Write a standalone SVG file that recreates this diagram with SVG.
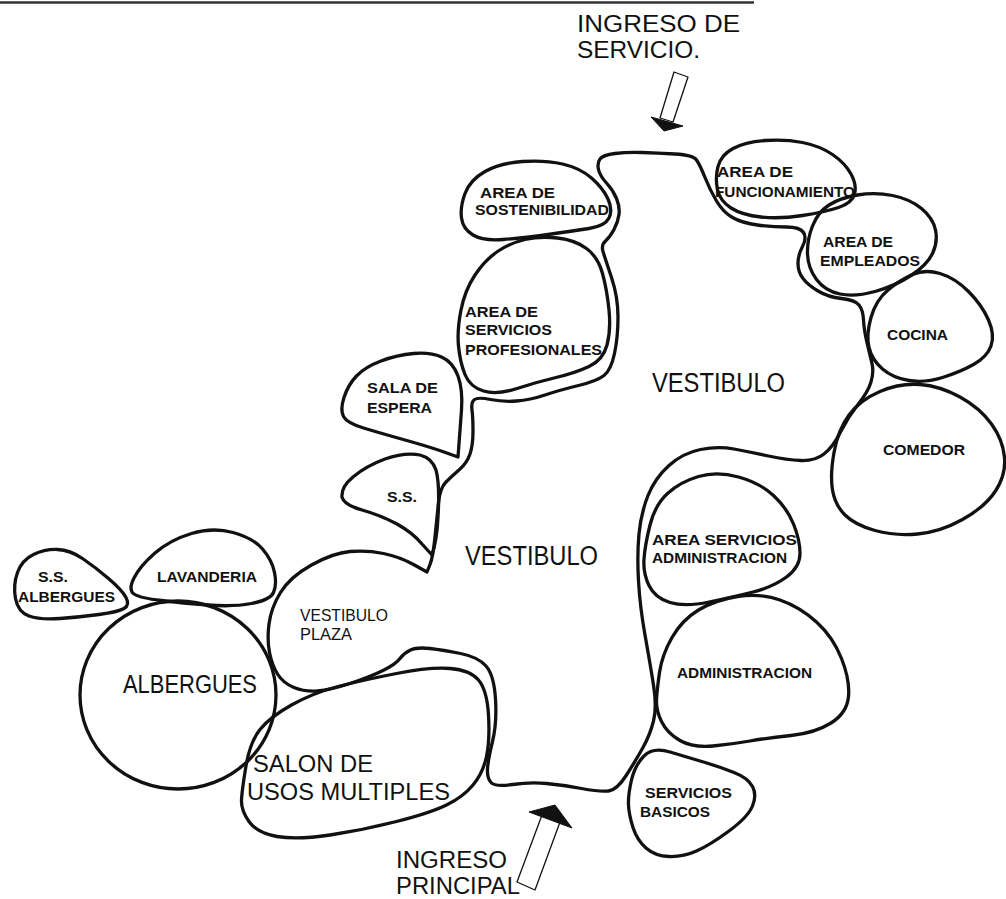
<svg xmlns="http://www.w3.org/2000/svg" width="1006" height="899" viewBox="0 0 1006 899">
<style>
.b{fill:none;stroke:#111;stroke-width:3.3;stroke-linejoin:round;stroke-linecap:round}
.t{font-family:"Liberation Sans",Arial,sans-serif;fill:#111;font-weight:bold;font-size:15px}
.L{font-family:"Liberation Sans",Arial,sans-serif;fill:#111;font-weight:normal}
.ar{fill:#fff;stroke:#111;stroke-width:1.3;stroke-linejoin:round}
.ah{fill:#111;stroke:#111;stroke-width:1;stroke-linejoin:round}
</style>
<rect width="1006" height="899" fill="#fff"/>
<line x1="0" y1="2.5" x2="754" y2="2.5" stroke="#333" stroke-width="2.5"/>

<g id="connectors">
  <g id="arrow-servicio">
    <polygon class="ar" points="674,72 688,77 673,122 660,118"/>
    <polygon class="ah" points="651,117 683,126 664,131"/>
  </g>
  <g id="arrow-principal">
    <polygon class="ar" points="542,815 560,822 535,890 517,882"/>
    <polygon class="ah" points="529,812 555,805 572,828"/>
  </g>
</g>

<g id="vestibulo">
  <path class="b" d="M600,159 Q603,155 615,153.5 Q627,152 642,152.5 Q657,153 675,154 Q693,155 696.5,160 Q700,165 705,177.5 Q710,190 716.5,201 Q723,212 732.5,217.5 Q742,223 757.5,225 Q773,227 786.5,227 Q800,227 803.5,232.5 Q807,238 802.5,246.5 Q798,255 798,263.5 Q798,272 803,278.5 Q808,285 818,291 Q828,297 841.5,298.5 Q855,300 859,305 Q863,310 863.5,320 Q864,330 867,342.5 Q870,355 872,363.5 Q874,372 871,382 Q868,392 858,404.5 Q848,417 840.5,432 Q833,447 824,454 Q815,461 801,460.5 Q787,460 768.5,456 Q750,452 734,449 Q718,446 700.5,449.5 Q683,453 669,465.5 Q655,478 648,495.5 Q641,513 639,534 Q637,555 638.5,581 Q640,607 645,635 Q650,663 653.5,685 Q657,707 653.5,721 Q650,735 643,747.5 Q636,760 626.5,775 Q617,790 608.5,791 Q600,792 581.5,788.5 Q563,785 546.5,783.5 Q530,782 512.5,784.5 Q495,787 491,782.5 Q487,778 487.5,769 Q488,760 492.5,741.5 Q497,723 495.5,699 Q494,675 486,666 Q478,657 460.5,653.5 Q443,650 430,648.5 Q417,647 410.5,650 Q404,653 400,658.5 Q396,664 383,670.5 Q370,677 350,683.5 Q330,690 317.5,691 Q305,692 294,687.5 Q283,683 277.5,674 Q272,665 269.5,652.5 Q267,640 269,624 Q271,608 280.5,592.5 Q290,577 311.5,565 Q333,553 350,551.5 Q367,550 383.5,553.5 Q400,557 413.5,564.5 L427,572 L430,564.5 Q433,557 435,537 Q437,517 438.5,502.5 Q440,488 446,482 Q452,476 459.5,469.5 Q467,463 470,454 Q473,445 473,431.5 Q473,418 472,410 Q471,402 474.5,399.5 Q478,397 490.5,399.5 Q503,402 516.5,401 Q530,400 545,395 Q560,390 578.5,385.5 Q597,381 604,375.5 Q611,370 614.5,353.5 Q618,337 618,317 Q618,297 611.5,277.5 Q605,258 603,251.5 Q601,245 605.5,241 Q610,237 614,229.5 Q618,222 619,214.5 Q620,207 616.5,198.5 Q613,190 606.5,183 Q600,176 598.5,169.5 Q597,163 600,159 Z"/>
  <text class="L" x="652" y="392" font-size="27" textLength="133" lengthAdjust="spacingAndGlyphs">VESTIBULO</text>
  <text class="L" x="465" y="565" font-size="27" textLength="133" lengthAdjust="spacingAndGlyphs">VESTIBULO</text>
  <text class="L" x="300" y="621" font-size="17" textLength="88" lengthAdjust="spacingAndGlyphs">VESTIBULO</text>
  <text class="L" x="300" y="640" font-size="17" textLength="52" lengthAdjust="spacingAndGlyphs">PLAZA</text>
</g>

<g id="ingreso-servicio">
  <text class="L" x="577" y="32" font-size="23" textLength="163" lengthAdjust="spacingAndGlyphs">INGRESO DE</text>
  <text class="L" x="577" y="58" font-size="23" textLength="123" lengthAdjust="spacingAndGlyphs">SERVICIO.</text>
</g>

<g id="ingreso-principal">
  <text class="L" x="396" y="868" font-size="23" textLength="111" lengthAdjust="spacingAndGlyphs">INGRESO</text>
  <text class="L" x="396" y="894" font-size="23" textLength="124" lengthAdjust="spacingAndGlyphs">PRINCIPAL</text>
</g>

<g id="sostenibilidad">
  <path class="b" d="M465,193.5 Q470,180 485,171.5 Q500,163 522.5,161.5 Q545,160 562.5,164 Q580,168 591.5,178 Q603,188 608,199 Q613,210 609,218 Q605,226 589,228.5 Q573,231 548,234.5 Q523,238 503,239.5 Q483,241 473,235 Q463,229 461.5,218 Q460,207 465,193.5 Z"/>
  <text class="t" x="480" y="198" textLength="75" lengthAdjust="spacingAndGlyphs">AREA DE</text>
  <text class="t" x="475" y="215" textLength="134" lengthAdjust="spacingAndGlyphs">SOSTENIBILIDAD</text>
</g>

<g id="funcionamiento">
  <path class="b" d="M718,166.5 Q721,155 733,148.5 Q745,142 765,140.5 Q785,139 802.5,142.5 Q820,146 832.5,154.5 Q845,163 851,174 Q857,185 854.5,194 Q852,203 838.5,207.5 Q825,212 802.5,215.5 Q780,219 761,217 Q742,215 731,208 Q720,201 717.5,189.5 Q715,178 718,166.5 Z"/>
  <text class="t" x="717" y="177" textLength="76" lengthAdjust="spacingAndGlyphs">AREA DE</text>
  <text class="t" x="715" y="197" textLength="140" lengthAdjust="spacingAndGlyphs">FUNCIONAMIENTO</text>
</g>

<g id="empleados">
  <path class="b" d="M812.5,226 Q818,212 829,205 Q840,198 857.5,195 Q875,192 892.5,195.5 Q910,199 921.5,208.5 Q933,218 935.5,230 Q938,242 932.5,253.5 Q927,265 911,275.5 Q895,286 875,291.5 Q855,297 840,294 Q825,291 816.5,279.5 Q808,268 807.5,254 Q807,240 812.5,226 Z"/>
  <text class="t" x="823" y="247" textLength="70" lengthAdjust="spacingAndGlyphs">AREA DE</text>
  <text class="t" x="820" y="266" textLength="100" lengthAdjust="spacingAndGlyphs">EMPLEADOS</text>
</g>

<g id="cocina">
  <path class="b" d="M871,317.5 Q876,300 888,290 Q900,280 912.5,274.5 Q925,269 940,273.5 Q955,278 968.5,291.5 Q982,305 988.5,320 Q995,335 991,346 Q987,357 973.5,364.5 Q960,372 942.5,377.5 Q925,383 909,380.5 Q893,378 882.5,369 Q872,360 869,347.5 Q866,335 871,317.5 Z"/>
  <text class="t" x="887" y="340" textLength="61" lengthAdjust="spacingAndGlyphs">COCINA</text>
</g>

<g id="comedor">
  <path class="b" d="M834,452.5 Q838,430 849,415 Q860,400 880,391.5 Q900,383 920,384.5 Q940,386 960,397 Q980,408 991.5,424 Q1003,440 1004.5,457.5 Q1006,475 995.5,491 Q985,507 962.5,519.5 Q940,532 917.5,534 Q895,536 875,530.5 Q855,525 845,515 Q835,505 832.5,490 Q830,475 834,452.5 Z"/>
  <text class="t" x="883" y="455" textLength="82" lengthAdjust="spacingAndGlyphs">COMEDOR</text>
</g>

<g id="servicios-profesionales">
  <path class="b" d="M461,310 Q465,290 475,275 Q485,260 497.5,251.5 Q510,243 525,239.5 Q540,236 557.5,238 Q575,240 586.5,248.5 Q598,257 602.5,273.5 Q607,290 609,310 Q611,330 607,345 Q603,360 589,366.5 Q575,373 556,377.5 Q537,382 517,388.5 Q497,395 483.5,391 Q470,387 465,374.5 Q460,362 458.5,346 Q457,330 461,310 Z"/>
  <text class="t" x="465" y="317" textLength="73" lengthAdjust="spacingAndGlyphs">AREA DE</text>
  <text class="t" x="465" y="335" textLength="87" lengthAdjust="spacingAndGlyphs">SERVICIOS</text>
  <text class="t" x="465" y="355" textLength="137" lengthAdjust="spacingAndGlyphs">PROFESIONALES</text>
</g>

<g id="sala-espera">
  <path class="b" d="M458,457 L444,452 Q430,447 405,440 Q380,433 363.5,428 Q347,423 343.5,416.5 Q340,410 344,397.5 Q348,385 356.5,376 Q365,367 381,361 Q397,355 413.5,353.5 Q430,352 441.5,357 Q453,362 458,376 Q463,390 461.5,410 Q460,430 458,457 Z"/>
  <text class="t" x="367" y="393" textLength="71" lengthAdjust="spacingAndGlyphs">SALA DE</text>
  <text class="t" x="367" y="413" textLength="65" lengthAdjust="spacingAndGlyphs">ESPERA</text>
</g>

<g id="ss">
  <path class="b" d="M432,555 L422,544 Q413,533 397,524 Q380,515 362,510 Q344,505 342,497 Q341,487 353,477 Q366,466 385,459 Q405,452 420,455 Q432,458 436,470 Q440,485 438,517 Q437,540 432,555 Z"/>
  <text class="t" x="387" y="502" textLength="30" lengthAdjust="spacingAndGlyphs">S.S.</text>
</g>

<g id="ss-albergues">
  <path class="b" d="M17.5,572.5 Q22,560 33.5,554.5 Q45,549 57.5,549.5 Q70,550 82.5,558.5 Q95,567 108.5,578.5 Q122,590 126,597.5 Q130,605 124,608.5 Q118,612 99,614.5 Q80,617 60,618.5 Q40,620 29,616 Q18,612 15.5,598.5 Q13,585 17.5,572.5 Z"/>
  <text class="t" x="38" y="582" textLength="30" lengthAdjust="spacingAndGlyphs">S.S.</text>
  <text class="t" x="18" y="602" textLength="97" lengthAdjust="spacingAndGlyphs">ALBERGUES</text>
</g>

<g id="lavanderia">
  <path class="b" d="M134,578 Q140,566 155,553 Q170,540 191.5,533.5 Q213,527 233,532.5 Q253,538 262.5,549 Q272,560 274.5,572.5 Q277,585 273.5,592.5 Q270,600 251.5,603.5 Q233,607 208,605 Q183,603 161.5,600.5 Q140,598 134,594 Q128,590 134,578 Z"/>
  <text class="t" x="157" y="582" textLength="100" lengthAdjust="spacingAndGlyphs">LAVANDERIA</text>
</g>

<g id="albergues">
  <ellipse class="b" cx="178" cy="695" rx="98" ry="94"/>
  <text class="L" x="123" y="693" font-size="25" textLength="134" lengthAdjust="spacingAndGlyphs">ALBERGUES</text>
</g>

<g id="salon">
  <path class="b" d="M246,766 Q250,742 260,729.5 Q270,717 291.5,705 Q313,693 338,686.5 Q363,680 396.5,673.5 Q430,667 450,668.5 Q470,670 478.5,680 Q487,690 488.5,715 Q490,740 486.5,756.5 Q483,773 473,785 Q463,797 446.5,805 Q430,813 396.5,821.5 Q363,830 330,835 Q297,840 277,836.5 Q257,833 249,821.5 Q241,810 241.5,800 Q242,790 246,766 Z"/>
  <text class="L" x="253" y="772" font-size="24" textLength="120" lengthAdjust="spacingAndGlyphs">SALON DE</text>
  <text class="L" x="247" y="800" font-size="24" textLength="203" lengthAdjust="spacingAndGlyphs">USOS MULTIPLES</text>
</g>

<g id="servicios-administracion">
  <path class="b" d="M650,525 Q655,505 667.5,493.5 Q680,482 698.5,476.5 Q717,471 738.5,477 Q760,483 773.5,495.5 Q787,508 793.5,524 Q800,540 800,553.5 Q800,567 786.5,577 Q773,587 753,592 Q733,597 709,602 Q685,607 670,602.5 Q655,598 649,585.5 Q643,573 644,559 Q645,545 650,525 Z"/>
  <text class="t" x="652" y="545" textLength="145" lengthAdjust="spacingAndGlyphs">AREA SERVICIOS</text>
  <text class="t" x="652" y="563" textLength="135" lengthAdjust="spacingAndGlyphs">ADMINISTRACION</text>
</g>

<g id="administracion">
  <path class="b" d="M659.5,672.5 Q662,655 672,637.5 Q682,620 698.5,610 Q715,600 737.5,596.5 Q760,593 780,600 Q800,607 816.5,622 Q833,637 841.5,658.5 Q850,680 848.5,696.5 Q847,713 831,723 Q815,733 791,735.5 Q767,738 750,741 Q733,744 713,746 Q693,748 680,740.5 Q667,733 661.5,721.5 Q656,710 656.5,700 Q657,690 659.5,672.5 Z"/>
  <text class="t" x="677" y="678" textLength="135" lengthAdjust="spacingAndGlyphs">ADMINISTRACION</text>
</g>

<g id="servicios-basicos">
  <path class="b" d="M631.5,780 Q635,765 644,756 Q653,747 670,752 Q687,757 703.5,762 Q720,767 734,772.5 Q748,778 752.5,786.5 Q757,795 752.5,806 Q748,817 729,831 Q710,845 696.5,851 Q683,857 669,856.5 Q655,856 646,848 Q637,840 633,827.5 Q629,815 628.5,805 Q628,795 631.5,780 Z"/>
  <text class="t" x="645" y="798" textLength="87" lengthAdjust="spacingAndGlyphs">SERVICIOS</text>
  <text class="t" x="640" y="817" textLength="70" lengthAdjust="spacingAndGlyphs">BASICOS</text>
</g>
</svg>
